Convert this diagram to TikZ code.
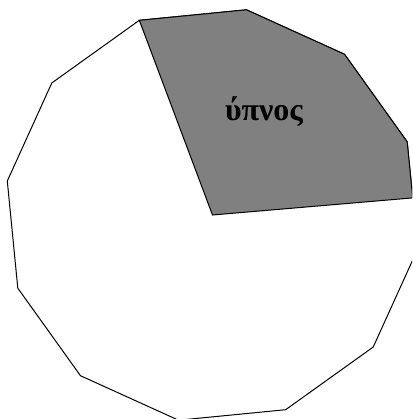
\documentclass[tikz,border=0pt]{standalone}
\usepackage{fontspec}
\setmainfont{Liberation Serif}
\usetikzlibrary{calc}
\begin{document}
\begin{tikzpicture}[x=1pt,y=1pt,
  edge/.style={draw=black,line width=1pt,line join=miter},
  lbl/.style={font=\fontsize{32}{34}\selectfont\bfseries,anchor=base,inner sep=0pt}]
\useasboundingbox (0,0) rectangle (412,-419);
\clip (0,0) rectangle (412,-419);
\coordinate (c) at (212.5,-215);
\def\R{208}
% outer 12-gon
\draw[edge,fill=white] ($(c)+(110.6:\R)$)
  \foreach \a in {80.6,50.6,20.6,-9.4,-39.4,-69.4,-99.4,-129.4,-159.4,170.6,140.6} { -- ($(c)+(\a:\R)$) } -- cycle;
% shaded sector
\coordinate (e) at (412.7,-197.9);
\draw[edge,fill=black!50] (c) -- ($(c)+(110.6:\R)$) -- ($(c)+(80.6:\R)$) -- ($(c)+(50.6:\R)$) -- ($(c)+(20.6:\R)$) -- (e) -- cycle;
\node[lbl] (t) at (264,-121) {ύπνος};
\end{tikzpicture}
\end{document}
